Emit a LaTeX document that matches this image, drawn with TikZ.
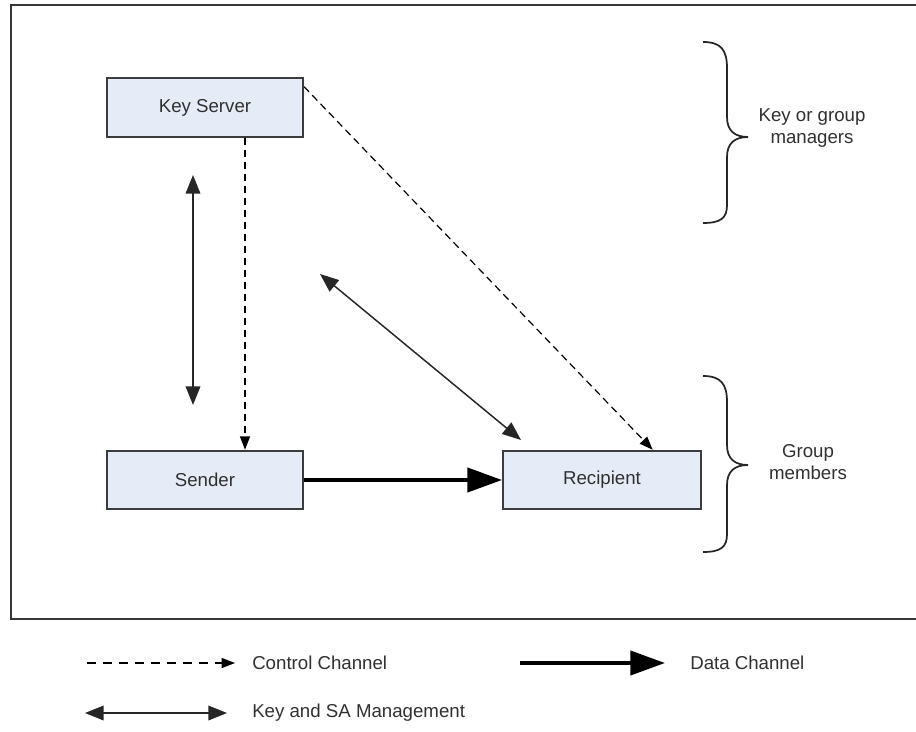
\documentclass[tikz,border=0pt]{standalone}
\usepackage{fontspec}
\setmainfont{Liberation Sans}
\usetikzlibrary{arrows.meta,calc}
\definecolor{boxfill}{HTML}{E6ECF7}
\definecolor{boxline}{HTML}{3C3C3C}
\definecolor{ink}{HTML}{303030}
\definecolor{framegray}{HTML}{383838}

\begin{document}
\begin{tikzpicture}[x=0.75pt,y=-0.75pt,
  entity/.style={draw=boxline,fill=boxfill,line width=1.4pt,
    minimum width=147pt,minimum height=44pt,inner sep=0pt,
    text=ink,font=\fontsize{14}{17}\selectfont},
  label/.style={text=ink,font=\fontsize{14}{17}\selectfont,align=center,inner sep=0pt},
  legendtext/.style={text=ink,font=\fontsize{14}{17}\selectfont,anchor=west,inner sep=0pt},
  ctrl/.style={draw=black,line width=0.9pt,dash pattern=on 5.5pt off 3.5pt,
    -{Triangle[length=10pt,width=7.5pt]}},
  mgmt/.style={draw=black!85,line width=1.1pt,
    {Triangle[length=14pt,width=11pt]}-{Triangle[length=14pt,width=11pt]}},
  datach/.style={draw=black,line width=3pt,
    -{Triangle[length=26pt,width=18pt]}},
  bracepath/.style={draw=black!85,line width=1.3pt}
]
\useasboundingbox (0,0) rectangle (916,731);

% outer frame (open to the right)
\draw[framegray,line width=2.2pt] (935,5) -- (11,5) -- (11,619) -- (935,619);

% entities
\node[entity] (ks) at (205,107.5) {Key Server};
\node[entity] (sd) at (205,480) {Sender};
\node[entity,minimum width=148.5pt] (rc) at (602,480) {Recipient};

% control channels
\draw[ctrl] ([xshift=30pt]ks.south) -- ([xshift=30pt]sd.north);
\draw[ctrl] ([yshift=-7pt]ks.north east) -- ([xshift=38pt]rc.north);

% key and SA management
\coordinate (mv1) at (193,175);
\coordinate (mv2) at (193,405);
\draw[mgmt] (mv1) -- (mv2);
\coordinate (md1) at (320,274);
\coordinate (md2) at (521,440);
\draw[mgmt] (md1) -- (md2);

% data channel
\draw[datach] (sd.east) -- (rc.west);

% braces
\draw[bracepath] (703,42) .. controls (721,42) and (727,50) .. (727,68)
  -- (727,117) .. controls (727,131) and (735,137) .. (748,137)
  .. controls (735,137) and (727,143) .. (727,157)
  -- (727,205) .. controls (727,218) and (721,223) .. (703,223);
\node[label] (mgr) at (812,128) {Key or group\\managers};

\draw[bracepath] (703,376) .. controls (721,376) and (727,384) .. (727,402)
  -- (727,445) .. controls (727,459) and (735,465) .. (748,465)
  .. controls (735,465) and (727,471) .. (727,485)
  -- (727,534) .. controls (727,547) and (721,552) .. (703,552);
\node[label] (mem) at (808,462) {Group\\members};

% legend
\coordinate (l1a) at (87,663);
\coordinate (l1b) at (235,663);
\draw[ctrl,dash pattern=on 7pt off 5pt] (l1a) -- (l1b);
\node[legendtext] (t1) at (252,663) {Control Channel};

\coordinate (l2a) at (85,713);
\coordinate (l2b) at (227,713);
\draw[mgmt] (l2a) -- (l2b);
\node[legendtext] (t2) at (252,713) {Key and SA Management};

\coordinate (l3a) at (520,663);
\coordinate (l3b) at (665,663);
\draw[datach] (l3a) -- (l3b);
\node[legendtext] (t3) at (690,663) {Data Channel};
\end{tikzpicture}
\end{document}
